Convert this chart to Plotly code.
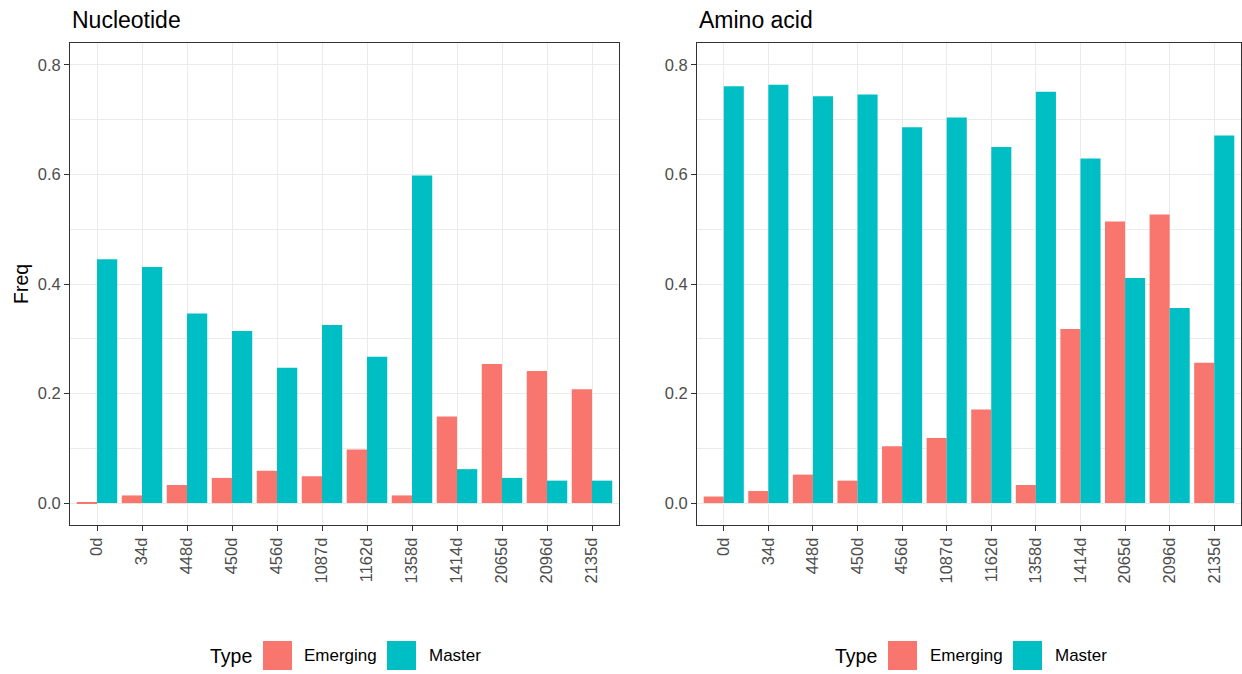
import plotly.graph_objects as go

# Sampling time points
days = ["0d", "34d", "448d", "450d", "456d", "1087d", "1162d",
        "1358d", "1414d", "2065d", "2096d", "2135d"]

# Nucleotide-level haplotype frequencies
nt_emerging = [0.001, 0.014, 0.033, 0.046, 0.059, 0.049, 0.098,
               0.014, 0.158, 0.254, 0.241, 0.208]
nt_master = [0.445, 0.431, 0.346, 0.314, 0.247, 0.325, 0.267,
             0.598, 0.062, 0.046, 0.041, 0.041]

# Amino-acid-level haplotype frequencies
aa_emerging = [0.012, 0.022, 0.052, 0.041, 0.104, 0.119, 0.171,
               0.033, 0.318, 0.514, 0.527, 0.256]
aa_master = [0.761, 0.764, 0.743, 0.746, 0.686, 0.704, 0.650,
             0.751, 0.629, 0.411, 0.356, 0.671]

types = ["Emerging", "Master"]
colors = {"Emerging": "#F8766D", "Master": "#00BFC4"}

W, H = 1242, 674
FONT = "Liberation Sans, Arial, sans-serif"


def px_x(x):
    return x / W


def px_y(y):
    return 1 - y / H


fig = go.Figure()

panels = [
    ("x", "y", nt_emerging, nt_master),
    ("x2", "y2", aa_emerging, aa_master),
]
for xa, ya, emerging, master in panels:
    for name, vals in zip(types, [emerging, master]):
        fig.add_trace(go.Bar(
            x=days, y=vals, name=name, xaxis=xa, yaxis=ya,
            marker=dict(color=colors[name], line=dict(width=0)),
            showlegend=False,
        ))

axis_common = dict(
    showgrid=True, gridcolor="#EBEBEB", gridwidth=1.1,
    showline=True, linecolor="#333333", linewidth=1.1, mirror=True,
    ticks="outside", ticklen=5, tickcolor="#333333", tickwidth=1.1,
    tickfont=dict(family=FONT, size=16.5, color="#4D4D4D"),
    zeroline=False, automargin=False,
)

y_top, y_bot = 43, 525
ydom = [px_y(y_bot), px_y(y_top)]

xaxis_common = dict(axis_common, type="category", categoryorder="array",
                    categoryarray=days, range=[-0.6, len(days) - 0.4],
                    tickangle=-90)
yaxis_common = dict(axis_common, range=[-0.04, 0.84], tickmode="array",
                    tickvals=[0, 0.2, 0.4, 0.6, 0.8],
                    ticktext=["0.0", "0.2", "0.4", "0.6", "0.8"],
                    minor=dict(tickvals=[0.1, 0.3, 0.5, 0.7],
                               showgrid=True, gridcolor="#EBEBEB",
                               gridwidth=0.6, ticks=""))

fig.update_layout(
    width=W, height=H,
    margin=dict(l=0, r=0, t=0, b=0),
    paper_bgcolor="white", plot_bgcolor="white",
    barmode="group", bargap=0.1, bargroupgap=0,
    font=dict(family=FONT, color="#000000"),
    xaxis=dict(xaxis_common, domain=[px_x(70), px_x(619)], anchor="y"),
    yaxis=dict(yaxis_common, domain=ydom, anchor="x"),
    xaxis2=dict(xaxis_common, domain=[px_x(697), px_x(1241)], anchor="y2"),
    yaxis2=dict(yaxis_common, domain=ydom, anchor="x2"),
)

annotations = []
shapes = []

# Facet titles
for text, x0 in [("Nucleotide", 70), ("Amino acid", 697)]:
    annotations.append(dict(
        text=text, x=px_x(x0), y=px_y(20), xref="paper", yref="paper",
        xanchor="left", yanchor="middle", showarrow=False,
        font=dict(family=FONT, size=23, color="#000000"),
    ))

# Shared y-axis title beside the left panel
annotations.append(dict(
    text="Freq", x=px_x(21), y=(ydom[0] + ydom[1]) / 2,
    xref="paper", yref="paper", xanchor="center", yanchor="middle",
    textangle=-90, showarrow=False,
    font=dict(family=FONT, size=19.5, color="#000000"),
))

# Legend keys under each panel
legend_rows = [
    dict(title_x=208, keys=[(263, 302), (387, 427)]),
    dict(title_x=833, keys=[(888, 928), (1013, 1053)]),
]
key_top, key_bot = 641, 670
key_mid = (key_top + key_bot) / 2
for row in legend_rows:
    annotations.append(dict(
        text="Type", x=px_x(row["title_x"]), y=px_y(key_mid),
        xref="paper", yref="paper", xanchor="left", yanchor="middle",
        showarrow=False, font=dict(family=FONT, size=19.5, color="#000000"),
    ))
    for name, (kx, tx) in zip(types, row["keys"]):
        shapes.append(dict(
            type="rect", xref="paper", yref="paper",
            x0=px_x(kx), x1=px_x(kx + 29),
            y0=px_y(key_bot), y1=px_y(key_top),
            fillcolor=colors[name], line=dict(width=0),
        ))
        annotations.append(dict(
            text=name, x=px_x(tx), y=px_y(key_mid),
            xref="paper", yref="paper", xanchor="left", yanchor="middle",
            showarrow=False, font=dict(family=FONT, size=17, color="#000000"),
        ))

fig.update_layout(annotations=annotations, shapes=shapes)

fig.write_html("out.html")
